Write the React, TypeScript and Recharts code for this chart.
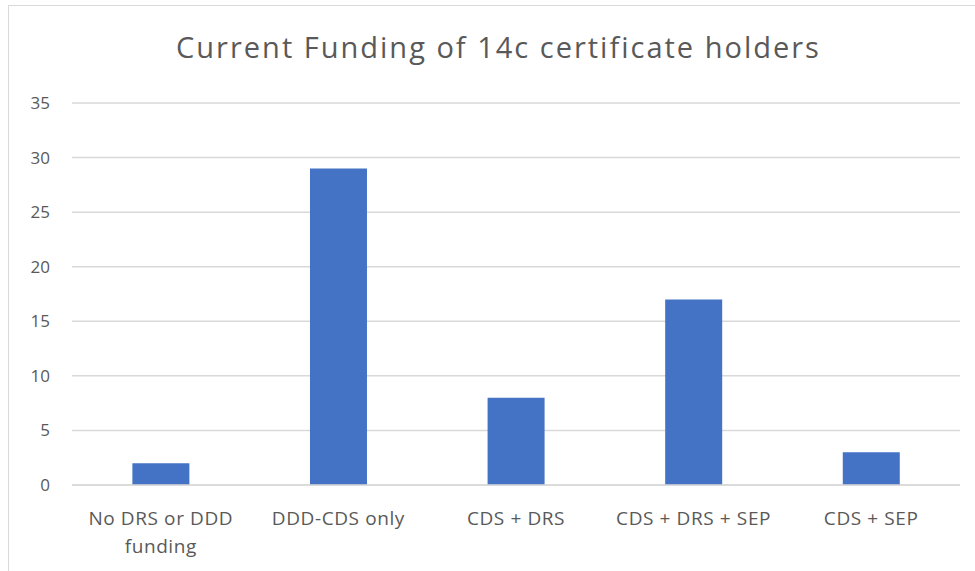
import React from "react";
import { Bar, BarChart, CartesianGrid, XAxis, YAxis } from "recharts";

const categories = [
  "No DRS or DDD funding",
  "DDD-CDS only",
  "CDS + DRS",
  "CDS + DRS + SEP",
  "CDS + SEP",
];
const holders = [2, 29, 8, 17, 3];
const yTicks = [0, 5, 10, 15, 20, 25, 30, 35];

const data = categories.map((name, i) => ({ name, value: holders[i] }));

const FONT = "'Open Sans', 'Noto Sans', sans-serif";

// break a label into lines of at most maxChars characters
function wrapLabel(label: string, maxChars = 15) {
  const lines: string[] = [];
  let cur = "";
  for (const word of label.split(" ")) {
    const next = cur ? cur + " " + word : word;
    if (next.length > maxChars && cur) {
      lines.push(cur);
      cur = word;
    } else {
      cur = next;
    }
  }
  if (cur) lines.push(cur);
  return lines;
}

function CategoryTick(props: any) {
  const { x, y, payload } = props;
  const lines = wrapLabel(String(payload.value));
  return (
    <text
      x={x}
      y={y + 32}
      textAnchor="middle"
      fontSize={19}
      letterSpacing={0.6}
      fontFamily={FONT}
      fill="#595959"
    >
      {lines.map((line, i) => (
        <tspan key={i} x={x} dy={i === 0 ? 0 : 28}>
          {line}
        </tspan>
      ))}
    </text>
  );
}

export default function App() {
  return (
    <div
      style={{
        position: "absolute",
        left: 0,
        top: 0,
        width: 975,
        height: 571,
        background: "#fff",
        overflow: "hidden",
      }}
    >
      <div
        style={{
          position: "absolute",
          left: 8,
          top: 5,
          width: 980,
          height: 600,
          border: "1px solid #d9d9d9",
        }}
      />
      <div
        style={{
          position: "absolute",
          left: 0,
          top: 27,
          width: 997,
          textAlign: "center",
          fontFamily: FONT,
          fontSize: 29,
          letterSpacing: 2,
          color: "#595959",
          lineHeight: "40px",
        }}
      >
        Current Funding of 14c certificate holders
      </div>
      <div style={{ position: "absolute", left: 0, top: 0 }}>
        <BarChart
          width={975}
          height={571}
          data={data}
          margin={{ top: 103, right: 15, bottom: 0, left: 0 }}
          barCategoryGap="34%"
        >
          <CartesianGrid vertical={false} stroke="#d9d9d9" strokeWidth={1.5} />
          <XAxis
            dataKey="name"
            height={86}
            axisLine={{ stroke: "#d9d9d9", strokeWidth: 1.5 }}
            tickLine={false}
            interval={0}
            tick={<CategoryTick />}
          />
          <YAxis
            width={72}
            domain={[0, 35]}
            ticks={yTicks}
            axisLine={false}
            tickLine={false}
            tickSize={0}
            tickMargin={22}
            tick={{ fontSize: 17, fontFamily: FONT, fill: "#595959" }}
          />
          <Bar dataKey="value" fill="#4472C4" isAnimationActive={false} />
        </BarChart>
      </div>
    </div>
  );
}
